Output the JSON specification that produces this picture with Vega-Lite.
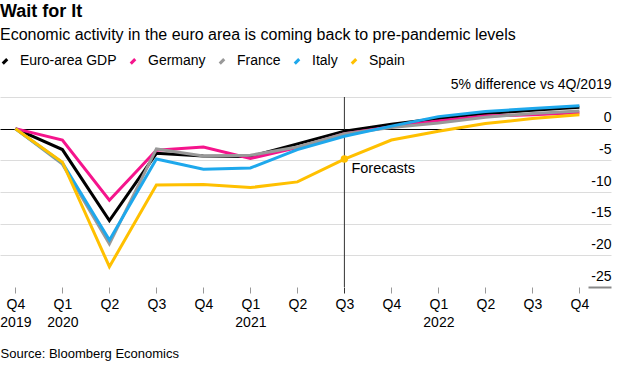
{
  "$schema": "https://vega.github.io/schema/vega-lite/v6.json",
  "width": 611,
  "height": 190,
  "autosize": {"type": "none"},
  "padding": {"left": 0, "top": 97, "right": 29, "bottom": 88},
  "background": "white",
  "title": {
    "text": "Wait for It",
    "subtitle": "Economic activity in the euro area is coming back to pre-pandemic levels",
    "anchor": "start",
    "frame": "group",
    "offset": 11,
    "font": "Liberation Sans",
    "subtitleFont": "Liberation Sans",
    "fontSize": 18,
    "fontWeight": "bold",
    "subtitleFontSize": 16,
    "subtitlePadding": 6,
    "color": "#000000",
    "subtitleColor": "#000000"
  },
  "config": {
    "font": "Liberation Sans",
    "view": {"stroke": null}
  },
  "data": {
    "values": [
      {"q": "Q4 2019", "c": "Euro-area GDP", "v": 0},
      {"q": "Q1 2020", "c": "Euro-area GDP", "v": -3.3},
      {"q": "Q2 2020", "c": "Euro-area GDP", "v": -14.5},
      {"q": "Q3 2020", "c": "Euro-area GDP", "v": -3.9},
      {"q": "Q4 2020", "c": "Euro-area GDP", "v": -4.3},
      {"q": "Q1 2021", "c": "Euro-area GDP", "v": -4.4},
      {"q": "Q2 2021", "c": "Euro-area GDP", "v": -2.4},
      {"q": "Q3 2021", "c": "Euro-area GDP", "v": -0.4},
      {"q": "Q4 2021", "c": "Euro-area GDP", "v": 0.7},
      {"q": "Q1 2022", "c": "Euro-area GDP", "v": 1.6},
      {"q": "Q2 2022", "c": "Euro-area GDP", "v": 2.4},
      {"q": "Q3 2022", "c": "Euro-area GDP", "v": 2.9},
      {"q": "Q4 2022", "c": "Euro-area GDP", "v": 3.4},
      {"q": "Q4 2019", "c": "Germany", "v": 0},
      {"q": "Q1 2020", "c": "Germany", "v": -1.8},
      {"q": "Q2 2020", "c": "Germany", "v": -11.3},
      {"q": "Q3 2020", "c": "Germany", "v": -3.4},
      {"q": "Q4 2020", "c": "Germany", "v": -2.9},
      {"q": "Q1 2021", "c": "Germany", "v": -4.7},
      {"q": "Q2 2021", "c": "Germany", "v": -3.0},
      {"q": "Q3 2021", "c": "Germany", "v": -0.8},
      {"q": "Q4 2021", "c": "Germany", "v": 0.3},
      {"q": "Q1 2022", "c": "Germany", "v": 1.2},
      {"q": "Q2 2022", "c": "Germany", "v": 2.0},
      {"q": "Q3 2022", "c": "Germany", "v": 2.2},
      {"q": "Q4 2022", "c": "Germany", "v": 2.5},
      {"q": "Q4 2019", "c": "France", "v": 0},
      {"q": "Q1 2020", "c": "France", "v": -5.6},
      {"q": "Q2 2020", "c": "France", "v": -18.2},
      {"q": "Q3 2020", "c": "France", "v": -3.2},
      {"q": "Q4 2020", "c": "France", "v": -4.3},
      {"q": "Q1 2021", "c": "France", "v": -4.2},
      {"q": "Q2 2021", "c": "France", "v": -2.9},
      {"q": "Q3 2021", "c": "France", "v": -0.8},
      {"q": "Q4 2021", "c": "France", "v": 0.2},
      {"q": "Q1 2022", "c": "France", "v": 0.9},
      {"q": "Q2 2022", "c": "France", "v": 1.8},
      {"q": "Q3 2022", "c": "France", "v": 2.4},
      {"q": "Q4 2022", "c": "France", "v": 2.8},
      {"q": "Q4 2019", "c": "Italy", "v": 0},
      {"q": "Q1 2020", "c": "Italy", "v": -5.4},
      {"q": "Q2 2020", "c": "Italy", "v": -17.6},
      {"q": "Q3 2020", "c": "Italy", "v": -4.8},
      {"q": "Q4 2020", "c": "Italy", "v": -6.4},
      {"q": "Q1 2021", "c": "Italy", "v": -6.2},
      {"q": "Q2 2021", "c": "Italy", "v": -3.3},
      {"q": "Q3 2021", "c": "Italy", "v": -1.2},
      {"q": "Q4 2021", "c": "Italy", "v": 0.4},
      {"q": "Q1 2022", "c": "Italy", "v": 1.9},
      {"q": "Q2 2022", "c": "Italy", "v": 2.7},
      {"q": "Q3 2022", "c": "Italy", "v": 3.2},
      {"q": "Q4 2022", "c": "Italy", "v": 3.6},
      {"q": "Q4 2019", "c": "Spain", "v": 0},
      {"q": "Q1 2020", "c": "Spain", "v": -5.3},
      {"q": "Q2 2020", "c": "Spain", "v": -21.8},
      {"q": "Q3 2020", "c": "Spain", "v": -8.9},
      {"q": "Q4 2020", "c": "Spain", "v": -8.8},
      {"q": "Q1 2021", "c": "Spain", "v": -9.3},
      {"q": "Q2 2021", "c": "Spain", "v": -8.4},
      {"q": "Q3 2021", "c": "Spain", "v": -4.8},
      {"q": "Q4 2021", "c": "Spain", "v": -1.8},
      {"q": "Q1 2022", "c": "Spain", "v": -0.4},
      {"q": "Q2 2022", "c": "Spain", "v": 0.8},
      {"q": "Q3 2022", "c": "Spain", "v": 1.6},
      {"q": "Q4 2022", "c": "Spain", "v": 2.2}
    ]
  },
  "encoding": {
    "x": {
      "field": "q",
      "type": "ordinal",
      "sort": null,
      "scale": {
        "type": "point",
        "domain": ["Q4 2019", "Q1 2020", "Q2 2020", "Q3 2020", "Q4 2020", "Q1 2021", "Q2 2021", "Q3 2021", "Q4 2021", "Q1 2022", "Q2 2022", "Q3 2022", "Q4 2022"],
        "paddingOuter": 0.6293,
        "align": 0.3276
      },
      "axis": {
        "title": "Source: Bloomberg Economics",
        "titleAnchor": "start",
        "titleAlign": "left",
        "titleX": 0,
        "titleY": 70,
        "titleBaseline": "alphabetic",
        "titleFontSize": 13,
        "titleFontWeight": "normal",
        "titleColor": "#000000",
        "domain": false,
        "grid": false,
        "ticks": true,
        "tickSize": 6,
        "tickWidth": 1,
        "tickColor": {"condition": {"test": "datum.value === 'Q3 2021'", "value": "#333333"}, "value": "#999999"},
        "labelAngle": 0,
        "labelFontSize": 14,
        "labelColor": "#000000",
        "labelPadding": 4,
        "labelLineHeight": 18,
        "labelExpr": "indexof(datum.value, 'Q1') === 0 || datum.value === 'Q4 2019' ? split(datum.value, ' ') : split(datum.value, ' ')[0]"
      }
    }
  },
  "layer": [
    {
      "data": {"values": [{"q": "Q3 2021"}]},
      "mark": {"type": "rule", "color": "#333333", "strokeWidth": 1},
      "encoding": {}
    },
    {
      "mark": {"type": "line", "strokeWidth": 3},
      "encoding": {
        "y": {
          "field": "v",
          "type": "quantitative",
          "scale": {"domain": [-25, 5], "nice": false, "zero": false},
          "axis": {
            "orient": "right",
            "values": [-25, -20, -15, -10, -5, 0, 5],
            "labelOverlap": false,
            "title": "5% difference vs 4Q/2019",
            "titleAngle": 0,
            "titleAlign": "right",
            "titleX": 0,
            "titleY": -9,
            "titleBaseline": "alphabetic",
            "titleFontSize": 14,
            "titleFontWeight": "normal",
            "titleColor": "#000000",
            "domain": false,
            "grid": true,
            "gridColor": {"condition": {"test": "datum.value === 0", "value": "#000000"}, "value": "#dcdcdc"},
            "gridOpacity": {"condition": {"test": "datum.value === -25", "value": 0}, "value": 1},
            "gridWidth": 1,
            "ticks": true,
            "tickSize": -23,
            "tickWidth": 2,
            "tickColor": {"condition": {"test": "datum.value === -25", "value": "#888888"}, "value": "transparent"},
            "labelAlign": "right",
            "labelBaseline": "alphabetic",
            "labelOffset": -7,
            "labelPadding": 23,
            "labelFontSize": 14,
            "labelColor": "#000000",
            "labelExpr": "datum.value === 5 ? '' : '' + datum.value"
          }
        },
        "color": {
          "field": "c",
          "type": "nominal",
          "scale": {
            "domain": ["Euro-area GDP", "Germany", "France", "Italy", "Spain"],
            "range": ["#000000", "#f5148c", "#999999", "#1ea8ec", "#ffc000"]
          },
          "legend": {
            "orient": "none",
            "legendX": -2,
            "legendY": -43,
            "direction": "horizontal",
            "title": null,
            "symbolType": "M-1,1L1,-1",
            "symbolSize": 20,
            "symbolStrokeWidth": 3,
            "labelFontSize": 14,
            "labelColor": "#000000",
            "labelOffset": 8,
            "columnPadding": 7
          }
        }
      }
    },
    {
      "transform": [{"filter": "datum.c === 'Spain' && datum.q === 'Q3 2021'"}],
      "mark": {"type": "point", "filled": true, "size": 55, "color": "#ffc000", "opacity": 1},
      "encoding": {
        "y": {
          "field": "v",
          "type": "quantitative",
          "scale": {"domain": [-25, 5], "nice": false, "zero": false},
          "axis": {
            "orient": "right",
            "values": [-25, -20, -15, -10, -5, 0, 5],
            "labelOverlap": false,
            "title": "5% difference vs 4Q/2019",
            "titleAngle": 0,
            "titleAlign": "right",
            "titleX": 0,
            "titleY": -9,
            "titleBaseline": "alphabetic",
            "titleFontSize": 14,
            "titleFontWeight": "normal",
            "titleColor": "#000000",
            "domain": false,
            "grid": true,
            "gridColor": {"condition": {"test": "datum.value === 0", "value": "#000000"}, "value": "#dcdcdc"},
            "gridOpacity": {"condition": {"test": "datum.value === -25", "value": 0}, "value": 1},
            "gridWidth": 1,
            "ticks": true,
            "tickSize": -23,
            "tickWidth": 2,
            "tickColor": {"condition": {"test": "datum.value === -25", "value": "#888888"}, "value": "transparent"},
            "labelAlign": "right",
            "labelBaseline": "alphabetic",
            "labelOffset": -7,
            "labelPadding": 23,
            "labelFontSize": 14,
            "labelColor": "#000000",
            "labelExpr": "datum.value === 5 ? '' : '' + datum.value"
          }
        }
      }
    },
    {
      "data": {"values": [{"q": "Q3 2021", "v": -6.4, "label": "Forecasts"}]},
      "mark": {"type": "text", "align": "left", "baseline": "middle", "dx": 7, "fontSize": 14.5, "color": "#000000"},
      "encoding": {
        "y": {
          "field": "v",
          "type": "quantitative",
          "scale": {"domain": [-25, 5], "nice": false, "zero": false},
          "axis": {
            "orient": "right",
            "values": [-25, -20, -15, -10, -5, 0, 5],
            "labelOverlap": false,
            "title": "5% difference vs 4Q/2019",
            "titleAngle": 0,
            "titleAlign": "right",
            "titleX": 0,
            "titleY": -9,
            "titleBaseline": "alphabetic",
            "titleFontSize": 14,
            "titleFontWeight": "normal",
            "titleColor": "#000000",
            "domain": false,
            "grid": true,
            "gridColor": {"condition": {"test": "datum.value === 0", "value": "#000000"}, "value": "#dcdcdc"},
            "gridOpacity": {"condition": {"test": "datum.value === -25", "value": 0}, "value": 1},
            "gridWidth": 1,
            "ticks": true,
            "tickSize": -23,
            "tickWidth": 2,
            "tickColor": {"condition": {"test": "datum.value === -25", "value": "#888888"}, "value": "transparent"},
            "labelAlign": "right",
            "labelBaseline": "alphabetic",
            "labelOffset": -7,
            "labelPadding": 23,
            "labelFontSize": 14,
            "labelColor": "#000000",
            "labelExpr": "datum.value === 5 ? '' : '' + datum.value"
          }
        },
        "text": {"field": "label"}
      }
    }
  ]
}
